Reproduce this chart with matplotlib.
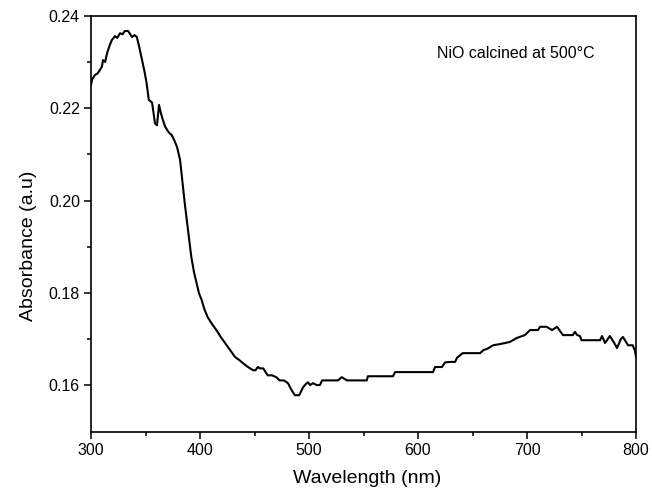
import matplotlib
matplotlib.use("Agg")
import matplotlib.pyplot as plt

plt.rcParams['font.family'] = ['Liberation Sans', 'DejaVu Sans']

# values
wavelength = [300, 301, 303.7, 306, 308, 310, 311, 313, 314.7, 317, 319, 322, 324, 326.6,
              329, 331, 334, 336, 337.6, 340, 342, 344, 346.8, 349, 351, 353, 356,
              358.7, 360.5, 362.4, 364, 366, 368, 370.6, 372, 374, 376.5, 378.9, 380,
              381.7, 383, 384.5, 386, 389, 392, 394.5, 396.9, 399, 401.5, 404, 407,
              411, 415, 419, 423, 427.5, 432, 436, 439.6, 444, 446, 448.6, 451, 453,
              455, 458, 462, 466, 470, 473, 477, 480.7, 484, 487, 491, 494.5, 497,
              499, 501, 503.7, 507, 510, 512, 520, 526.6, 530, 534.9, 545, 553, 554,
              565, 577, 579, 595, 605, 613.8, 615.6, 622, 624.8, 630, 634, 635.8, 641,
              650, 657, 659.6, 664, 668.8, 676, 684, 690.8, 698, 702.8, 710, 712, 718,
              720, 723, 727.5, 733, 742, 744, 746, 748.6, 750, 767, 768.8, 771.6, 776,
              780, 782.6, 786, 788, 792.7, 797, 799, 800]
absorbance = [0.2250, 0.2262, 0.2272, 0.2275, 0.2282, 0.2290, 0.2304, 0.2300, 0.2319,
              0.2335, 0.2347, 0.2356, 0.2352, 0.2362, 0.2360, 0.2367, 0.2367, 0.2360,
              0.2354, 0.2358, 0.2354, 0.2335, 0.2304, 0.2280, 0.2254, 0.2218, 0.2212,
              0.2167, 0.2163, 0.2207, 0.2190, 0.2174, 0.2160, 0.2150, 0.2146, 0.2142,
              0.2130, 0.2116, 0.2105, 0.2088, 0.2060, 0.2028, 0.1994, 0.1936, 0.1878,
              0.1845, 0.1821, 0.1800, 0.1785, 0.1765, 0.1748, 0.1733, 0.1720, 0.1705,
              0.1692, 0.1677, 0.1662, 0.1655, 0.1648, 0.1640, 0.1637, 0.1633, 0.1633,
              0.1640, 0.1637, 0.1637, 0.1622, 0.1622, 0.1618, 0.1611, 0.1611, 0.1605,
              0.1590, 0.1579, 0.1579, 0.1596, 0.1603, 0.1607, 0.1601, 0.1605, 0.1601,
              0.1601, 0.1611, 0.1611, 0.1611, 0.1618, 0.1611, 0.1611, 0.1611, 0.1620,
              0.1620, 0.1620, 0.1629, 0.1629, 0.1629, 0.1629, 0.1640, 0.1640, 0.1650,
              0.1651, 0.1651, 0.1660, 0.1670, 0.1670, 0.1670, 0.1676, 0.1680, 0.1687,
              0.1690, 0.1694, 0.1703, 0.1709, 0.1720, 0.1720, 0.1727, 0.1727, 0.1724,
              0.1720, 0.1727, 0.1709, 0.1709, 0.1716, 0.1709, 0.1707, 0.1698, 0.1698,
              0.1707, 0.1692, 0.1707, 0.1692, 0.1681, 0.1700, 0.1705, 0.1687, 0.1687,
              0.1675, 0.1661]

x_major = [300, 400, 500, 600, 700, 800]
x_minor = [350, 450, 550, 650, 750]
y_major = [0.16, 0.18, 0.20, 0.22, 0.24]
y_minor = [0.17, 0.19, 0.21, 0.23]

fig = plt.figure(figsize=(6.52, 4.96), dpi=100)
ax = fig.add_axes([0.1396, 0.1296, 0.8359, 0.8387])

ax.plot(wavelength, absorbance, color='black', lw=1.5)

ax.set_xlim(300, 800)
ax.set_ylim(0.15, 0.24)
ax.set_xticks(x_major)
ax.set_xticks(x_minor, minor=True)
ax.set_yticks(y_major)
ax.set_yticks(y_minor, minor=True)
ax.set_xticklabels([str(v) for v in x_major])
ax.set_yticklabels(["%.2f" % v for v in y_major])

ax.tick_params(which='major', direction='out', length=5, width=1.1, labelsize=11.5, pad=3)
ax.tick_params(which='minor', direction='out', length=3, width=1.1)
for s in ax.spines.values():
    s.set_linewidth(1.2)

ax.set_xlabel('Wavelength (nm)', fontsize=14)
ax.set_ylabel('Absorbance (a.u)', fontsize=14)
ax.xaxis.set_label_coords(0.506, -0.092)
ax.yaxis.set_label_coords(-0.099, 0.446)

ax.text(0.634, 0.8976, 'NiO calcined at 500°C', transform=ax.transAxes,
        fontsize=11.5, ha='left', va='baseline')

fig.savefig('out.png', dpi=100)
